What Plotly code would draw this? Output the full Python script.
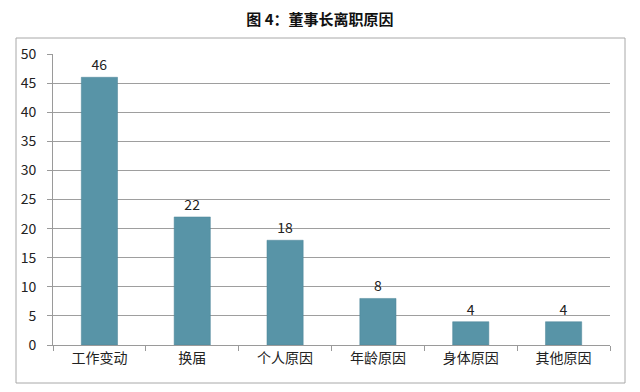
import plotly.graph_objects as go

categories = ["工作变动", "换届", "个人原因", "年龄原因", "身体原因", "其他原因"]
values = [46, 22, 18, 8, 4, 4]
y_ticks = [0, 5, 10, 15, 20, 25, 30, 35, 40, 45, 50]
title_text = "图 4：董事长离职原因"

FONT = "Noto Sans CJK SC, Noto Sans, sans-serif"
OFF = 8  # page offset observed in the rendering

L, T = 53 - OFF, 54 - OFF
PW, PH = 557, 291
W, H = 640, 392
R = W - L - PW
B = H - T - PH

fig = go.Figure()
fig.add_trace(go.Bar(
    x=categories,
    y=values,
    width=0.39,
    marker=dict(color="#5894a7", line=dict(color="#4d8598", width=0.5)),
    text=[str(v) for v in values],
    textposition="outside",
    textfont=dict(size=14, color="#222222", family=FONT),
    cliponaxis=False,
))

fig.update_layout(
    width=W, height=H,
    margin=dict(l=L, r=R, t=T, b=B, autoexpand=False),
    paper_bgcolor="white",
    plot_bgcolor="white",
    showlegend=False,
    font=dict(family=FONT, color="#222222", size=14),
    title=dict(text="<b>" + title_text + "</b>", x=(320 - OFF) / W, xanchor="center",
               y=1 - (20 - OFF) / H, yanchor="middle",
               font=dict(size=15, color="#111111", family=FONT)),
    xaxis=dict(
        automargin=False,
        showline=True, linecolor="#9a9a9a", linewidth=1,
        ticks="outside", tickson="boundaries", ticklen=5, tickcolor="#9a9a9a",
        tickfont=dict(size=14, color="#222222"),
        showgrid=False,
    ),
    yaxis=dict(
        automargin=False,
        range=[0, 50], tickvals=y_ticks,
        showline=True, linecolor="#9a9a9a", linewidth=1,
        ticks="outside", ticklen=5, tickcolor="#9a9a9a",
        ticklabelstandoff=8,
        showgrid=True, gridcolor="#9e9e9e", gridwidth=1,
        zeroline=False,
        tickfont=dict(size=14, color="#222222"),
    ),
    shapes=[dict(type="rect", xref="paper", yref="paper",
                 x0=(16 - 53) / PW, x1=(625 - 53) / PW,
                 y0=(345 - 383) / PH, y1=(345 - 38) / PH,
                 line=dict(color="#a8a8a8", width=1), fillcolor="rgba(0,0,0,0)",
                 layer="below")],
)

fig.write_html("out.html")
